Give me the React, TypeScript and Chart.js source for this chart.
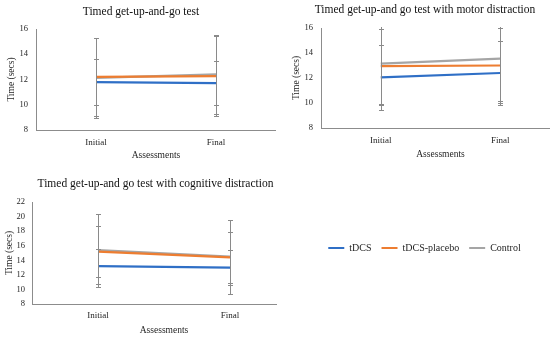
import React, { useEffect, useRef } from "react";
import { Chart, registerables } from "chart.js";

Chart.register(...registerables);

// ---------- data ----------
const categories = ["Initial", "Final"];
const seriesNames = ["tDCS", "tDCS-placebo", "Control"];
const seriesColors = ["#2F6FC6", "#ED7D31", "#A5A5A5"];

const panelTitles = [
  "Timed get-up-and-go test",
  "Timed get-up-and go test with motor distraction",
  "Timed get-up-and go test with cognitive distraction",
];
const yAxisTitle = "Time (secs)";
const xAxisTitle = "Assessments";

// Panel 1: Timed get-up-and-go test
const p1Tdcs = [11.8, 11.72];
const p1Placebo = [12.2, 12.27];
const p1Control = [12.12, 12.4];
const p1TdcsErr = [1.8, 1.77];
const p1PlaceboErr = [3.1, 3.2];
const p1ControlErr = [3.13, 3.15];

// Panel 2: with motor distraction
const p2Tdcs = [12.05, 12.4];
const p2Placebo = [12.95, 13.0];
const p2Control = [13.15, 13.55];
const p2TdcsErr = [2.6, 2.6];
const p2PlaceboErr = [3.0, 3.0];
const p2ControlErr = [3.3, 3.4];

// Panel 3: with cognitive distraction
const p3Tdcs = [13.2, 13.0];
const p3Placebo = [15.2, 14.4];
const p3Control = [15.4, 14.5];
const p3TdcsErr = [2.4, 2.4];
const p3PlaceboErr = [3.5, 3.55];
const p3ControlErr = [5.0, 5.07];

// y-axis ranges [min, max, step]
const p1Range = [8, 16, 2];
const p2Range = [8, 16, 2];
const p3Range = [8, 22, 2];

// ---------- styling ----------
const FONT = "'Liberation Serif', 'Times New Roman', serif";
const TEXT = "#262626";
const AXIS = "#8C8C8C";
const ERRC = "#8A8A8A";

type Layout = {
  cw: number; ch: number; clipW: number; left: number; top: number;
  padTop: number; yWidth: number; xHeight: number;
  titleX: number; titleY: number;
  yTitlePad: number; yTickPad: number; xTickPad: number; xTitlePad: number;
};

type PanelProps = {
  title: string;
  values: number[][];
  errors: number[][];
  range: number[];
  lay: Layout;
};

function Panel({ title, values, errors, range, lay }: PanelProps) {
  const ref = useRef<HTMLCanvasElement | null>(null);
  useEffect(() => {
    if (!ref.current) return;
    const errorBarPlugin = {
      id: "errorBarsLocal",
      afterDatasetsDraw(chart: any) {
        const { ctx, chartArea } = chart;
        const yScale = chart.scales.y;
        ctx.save();
        ctx.beginPath();
        ctx.rect(chartArea.left, chartArea.top - 1, chartArea.right - chartArea.left, chartArea.bottom - chartArea.top + 1);
        ctx.clip();
        ctx.strokeStyle = ERRC;
        ctx.lineWidth = 1;
        chart.data.datasets.forEach((ds: any, i: number) => {
          const meta = chart.getDatasetMeta(i);
          meta.data.forEach((pt: any, j: number) => {
            const v = ds.data[j];
            const e = errors[i][j];
            const x = Math.round(pt.x) + 0.5;
            const yt = Math.round(yScale.getPixelForValue(v + e)) + 0.5;
            const yb = Math.round(yScale.getPixelForValue(v - e)) + 0.5;
            ctx.beginPath();
            ctx.moveTo(x, yt);
            ctx.lineTo(x, yb);
            ctx.moveTo(x - 2.5, yt);
            ctx.lineTo(x + 2.5, yt);
            ctx.moveTo(x - 2.5, yb);
            ctx.lineTo(x + 2.5, yb);
            ctx.stroke();
          });
        });
        ctx.restore();
      },
    };
    const titlePlugin = {
      id: "panelTitleLocal",
      afterDraw(chart: any) {
        const ctx = chart.ctx;
        ctx.save();
        ctx.font = `11.5px ${FONT}`;
        ctx.fillStyle = "#111";
        ctx.textAlign = "center";
        ctx.textBaseline = "middle";
        ctx.fillText(title, lay.titleX, lay.titleY);
        ctx.restore();
      },
    };
    const chart = new Chart(ref.current, {
      type: "line",
      data: {
        labels: categories,
        datasets: seriesNames.map((name, i) => ({
          label: name,
          data: values[i],
          borderColor: seriesColors[i],
          backgroundColor: seriesColors[i],
          borderWidth: 2.25,
          pointRadius: 0,
          tension: 0,
        })),
      },
      options: {
        responsive: false,
        animation: false,
        devicePixelRatio: 1,
        layout: { padding: { top: lay.padTop, left: 0, right: 0, bottom: 0 } },
        plugins: { legend: { display: false }, tooltip: { enabled: false } },
        scales: {
          x: {
            type: "category",
            offset: true,
            grid: { display: false, drawTicks: false },
            border: { display: true, color: AXIS, width: 1 },
            ticks: { padding: lay.xTickPad, color: TEXT, font: { family: FONT, size: 9 } },
            title: {
              display: true,
              text: xAxisTitle,
              color: TEXT,
              font: { family: FONT, size: 9.5 },
              padding: { top: 0, bottom: lay.xTitlePad },
            },
            afterFit: (s: any) => { s.height = lay.xHeight; },
          },
          y: {
            min: range[0],
            max: range[1],
            grid: { display: false, drawTicks: false },
            border: { display: true, color: AXIS, width: 1 },
            ticks: { stepSize: range[2], padding: lay.yTickPad, color: TEXT, font: { family: FONT, size: 8.5 } },
            title: {
              display: true,
              text: yAxisTitle,
              color: TEXT,
              font: { family: FONT, size: 9.5 },
              padding: { top: lay.yTitlePad, bottom: 0 },
            },
            afterFit: (s: any) => { s.width = lay.yWidth; },
          },
        },
      } as any,
      plugins: [errorBarPlugin, titlePlugin],
    });
    return () => chart.destroy();
  }, []);
  return (
    <div style={{ position: "absolute", left: lay.left, top: lay.top, width: lay.clipW, height: lay.ch, overflow: "hidden" }}>
      <canvas ref={ref} width={lay.cw} height={lay.ch} style={{ width: lay.cw, height: lay.ch, display: "block" }} />
    </div>
  );
}

function LegendPanel() {
  const ref = useRef<HTMLCanvasElement | null>(null);
  useEffect(() => {
    if (!ref.current) return;
    const chart = new Chart(ref.current, {
      type: "line",
      data: {
        labels: [],
        datasets: seriesNames.map((name, i) => ({
          label: name,
          data: [],
          borderColor: seriesColors[i],
          backgroundColor: seriesColors[i],
          borderWidth: 2,
        })),
      },
      options: {
        responsive: false,
        animation: false,
        devicePixelRatio: 1,
        layout: { padding: { top: 63, left: 22, right: 0, bottom: 0 } },
        scales: { x: { display: false }, y: { display: false } },
        plugins: {
          tooltip: { enabled: false },
          legend: {
            display: true,
            position: "top",
            labels: {
              usePointStyle: true,
              pointStyle: "line",
              pointStyleWidth: 16,
              padding: 10,
              color: TEXT,
              font: { family: FONT, size: 10 },
            },
          },
        },
      } as any,
    });
    return () => chart.destroy();
  }, []);
  return (
    <div style={{ position: "absolute", left: 277, top: 170, width: 273, height: 170 }}>
      <canvas ref={ref} width={273} height={170} style={{ width: 273, height: 170, display: "block" }} />
    </div>
  );
}

const lay1: Layout = {
  cw: 276, ch: 170, clipW: 277, left: 0, top: 0,
  padTop: 29, yWidth: 36, xHeight: 40,
  titleX: 141, titleY: 12,
  yTitlePad: 6, yTickPad: 8, xTickPad: 7, xTitlePad: 9,
};
const lay2: Layout = {
  cw: 285, ch: 170, clipW: 275, left: 275, top: 0,
  padTop: 28, yWidth: 46, xHeight: 42,
  titleX: 150, titleY: 10,
  yTitlePad: 16, yTickPad: 8, xTickPad: 7, xTitlePad: 10,
};
const lay3: Layout = {
  cw: 296, ch: 170, clipW: 277, left: 0, top: 170,
  padTop: 32, yWidth: 32, xHeight: 36,
  titleX: 155.5, titleY: 14,
  yTitlePad: 4, yTickPad: 7, xTickPad: 6, xTitlePad: 4,
};

export default function App() {
  return (
    <div style={{ position: "absolute", left: 0, top: 0, width: 550, height: 340, overflow: "hidden", background: "#fff" }}>
      <Panel
        title={panelTitles[0]}
        values={[p1Tdcs, p1Placebo, p1Control]}
        errors={[p1TdcsErr, p1PlaceboErr, p1ControlErr]}
        range={p1Range}
        lay={lay1}
      />
      <Panel
        title={panelTitles[1]}
        values={[p2Tdcs, p2Placebo, p2Control]}
        errors={[p2TdcsErr, p2PlaceboErr, p2ControlErr]}
        range={p2Range}
        lay={lay2}
      />
      <Panel
        title={panelTitles[2]}
        values={[p3Tdcs, p3Placebo, p3Control]}
        errors={[p3TdcsErr, p3PlaceboErr, p3ControlErr]}
        range={p3Range}
        lay={lay3}
      />
      <LegendPanel />
    </div>
  );
}
